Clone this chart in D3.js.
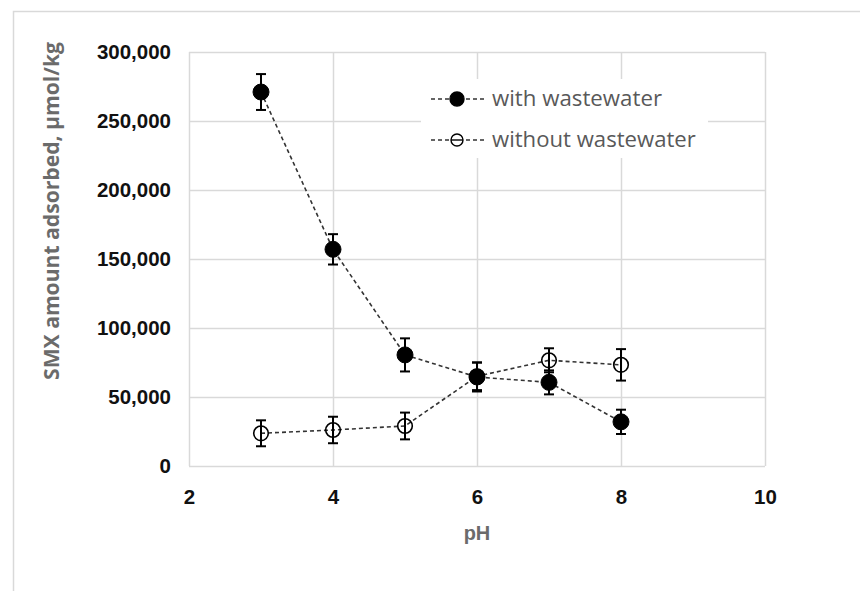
<!DOCTYPE html>
<html><head><meta charset="utf-8">
<script src="https://cdn.jsdelivr.net/npm/d3@7"></script>
<style>html,body{margin:0;padding:0;background:#fff;}svg{display:block;}</style>
</head><body>
<svg id="chart" width="860" height="591"></svg>
<script>
const pH = [3, 4, 5, 6, 7, 8];
const withWW = [271000, 157000, 80500, 64500, 60600, 32000];
const withErr = [13000, 11000, 12000, 10500, 8700, 8800];
const withoutWW = [23700, 26100, 29000, 65000, 76600, 73300];
const withoutErr = [9400, 9600, 9700, 10000, 8700, 11400];
const xTicks = [2, 4, 6, 8, 10];
const yTicks = [0, 50000, 100000, 150000, 200000, 250000, 300000];
const seriesNames = ["with wastewater", "without wastewater"];
const xTitle = "pH";
const yTitle = "SMX amount adsorbed, µmol/kg";

const svg = d3.select("#chart");
const W = 860, H = 591;
const m = {left: 189, right: 765, top: 52, bottom: 466};
const x = d3.scaleLinear().domain([2, 10]).range([m.left, m.right]);
const y = d3.scaleLinear().domain([0, 300000]).range([m.bottom, m.top]);
const grid = "#d9d9d9";

// outer frame (partially visible)
svg.append("path").attr("d", `M13.5,${H} L13.5,11.5 L${W},11.5`)
  .attr("fill", "none").attr("stroke", grid).attr("stroke-width", 1.5);

// gridlines
const gx = svg.append("g").attr("transform", `translate(0,${m.bottom})`)
  .call(d3.axisBottom(x).tickValues(xTicks).tickSize(-(m.bottom - m.top)).tickFormat(""));
gx.selectAll("line").attr("stroke", grid).attr("stroke-width", 1.5);
gx.select(".domain").remove();
const gy = svg.append("g").attr("transform", `translate(${m.left},0)`)
  .call(d3.axisLeft(y).tickValues(yTicks).tickSize(-(m.right - m.left)).tickFormat(""));
gy.selectAll("line").attr("stroke", grid).attr("stroke-width", 1.5);
gy.select(".domain").remove();

// tick labels
const fmt = d3.format(",");
const yl = svg.append("g").attr("transform", `translate(${m.left},0)`)
  .call(d3.axisLeft(y).tickValues(yTicks).tickSize(0).tickPadding(18).tickFormat(fmt));
yl.select(".domain").remove();
yl.selectAll("text").attr("font-family", "Liberation Sans, Arial, sans-serif")
  .attr("font-weight", "bold").attr("font-size", 20.5).attr("fill", "#111");
const xl = svg.append("g").attr("transform", `translate(0,${m.bottom})`)
  .call(d3.axisBottom(x).tickValues(xTicks).tickSize(0).tickPadding(23).tickFormat(d3.format("d")));
xl.select(".domain").remove();
xl.selectAll("text").attr("font-family", "Liberation Sans, Arial, sans-serif")
  .attr("font-weight", "bold").attr("font-size", 20.5).attr("fill", "#111");

// axis titles
svg.append("text").attr("x", 477).attr("y", 540).attr("text-anchor", "middle")
  .attr("font-family", "Liberation Sans, Arial, sans-serif").attr("font-weight", "bold")
  .attr("font-size", 20).attr("fill", "#6b6b6b").text(xTitle);
const yt = svg.append("text").attr("transform", "translate(59,211) rotate(-90)")
  .attr("text-anchor", "middle").attr("font-family", "Open Sans, sans-serif")
  .attr("font-weight", 700).attr("font-size", 21).attr("fill", "#6b6b6b").text(yTitle);
(function(){ const L = yt.node().getComputedTextLength(); yt.attr("font-size", 21 * 338 / L); })();

// legend background
svg.append("rect").attr("x", 421).attr("y", 79).attr("width", 287).attr("height", 79).attr("fill", "#fff");

const line = d3.line().x((d, i) => x(pH[i])).y(d => y(d));

function drawSeries(vals, errs, filled) {
  const g = svg.append("g");
  g.append("path").datum(vals).attr("d", line).attr("fill", "none")
    .attr("stroke", "#333").attr("stroke-width", 1.6).attr("stroke-dasharray", "4,3");
  const e = g.selectAll(".err").data(vals).join("g");
  e.append("line").attr("x1", (d, i) => x(pH[i])).attr("x2", (d, i) => x(pH[i]))
    .attr("y1", (d, i) => y(d + errs[i])).attr("y2", (d, i) => y(d - errs[i]))
    .attr("stroke", "#000").attr("stroke-width", 2);
  [1, -1].forEach(s => {
    e.append("line").attr("x1", (d, i) => x(pH[i]) - 5).attr("x2", (d, i) => x(pH[i]) + 5)
      .attr("y1", (d, i) => y(d + s * errs[i])).attr("y2", (d, i) => y(d + s * errs[i]))
      .attr("stroke", "#000").attr("stroke-width", 2);
  });
  g.selectAll("circle").data(vals).join("circle")
    .attr("cx", (d, i) => x(pH[i])).attr("cy", d => y(d))
    .attr("r", filled ? 8 : 7.3)
    .attr("fill", filled ? "#000" : "none").attr("stroke", "#000").attr("stroke-width", filled ? 1 : 1.6);
}
drawSeries(withoutWW, withoutErr, false);
drawSeries(withWW, withErr, true);

// legend
const lg = svg.append("g");
seriesNames.forEach((name, k) => {
  const ly = 99 + k * 41;
  lg.append("line").attr("x1", 431).attr("x2", 485).attr("y1", ly).attr("y2", ly)
    .attr("stroke", "#333").attr("stroke-width", 1.6).attr("stroke-dasharray", "4,3");
  lg.append("circle").attr("cx", 457).attr("cy", ly).attr("r", k === 0 ? 7 : 6)
    .attr("fill", k === 0 ? "#000" : "#fff").attr("stroke", "#000").attr("stroke-width", 1.4);
  if (k === 1) lg.append("line").attr("x1", 451).attr("x2", 463).attr("y1", ly).attr("y2", ly)
    .attr("stroke", "#000").attr("stroke-width", 1.4);
  const t = lg.append("text").attr("x", 492).attr("y", ly + 7)
    .attr("font-family", "Open Sans, sans-serif").attr("font-size", 20).attr("fill", "#595959").text(name);
  const target = k === 0 ? 170 : 204;
  const L = t.node().getComputedTextLength();
  t.attr("font-size", 20 * target / L);
});
</script>
</body></html>
